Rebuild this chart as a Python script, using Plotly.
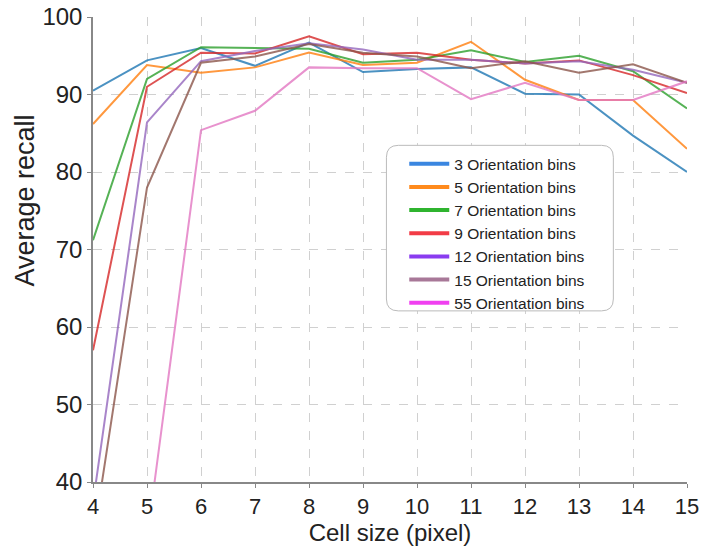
import plotly.graph_objects as go

# Cell size (pixel) on the x axis
cell_sizes = [4, 5, 6, 7, 8, 9, 10, 11, 12, 13, 14, 15]

# Average recall for each number of orientation bins
recall_3 = [90.5, 94.4, 96.0, 93.7, 96.7, 92.9, 93.3, 93.5, 90.1, 90.0, 84.7, 80.0]
recall_5 = [86.2, 93.8, 92.8, 93.5, 95.4, 93.8, 94.1, 96.8, 91.9, 89.3, 89.3, 83.0]
recall_7 = [71.2, 92.0, 96.1, 96.0, 95.9, 94.1, 94.5, 95.7, 94.2, 95.0, 93.0, 88.2]
recall_9 = [57.0, 91.0, 95.4, 95.3, 97.5, 95.2, 95.4, 94.5, 94.0, 94.4, 92.5, 90.2]
recall_12 = [37.3, 86.4, 94.3, 95.6, 96.6, 95.8, 94.5, 94.5, 94.0, 94.3, 93.2, 91.5]
recall_15 = [32.4, 78.0, 94.1, 94.9, 96.5, 95.4, 94.9, 93.4, 94.3, 92.8, 93.9, 91.5]
recall_55 = [20.0, 32.6, 85.4, 87.9, 93.5, 93.4, 93.4, 89.4, 91.5, 89.3, 89.3, 91.7]

series_names = [
    "3 Orientation bins", "5 Orientation bins", "7 Orientation bins",
    "9 Orientation bins", "12 Orientation bins", "15 Orientation bins",
    "55 Orientation bins",
]
series_values = [recall_3, recall_5, recall_7, recall_9, recall_12, recall_15, recall_55]

# plotted line colours and the brighter swatches used in the legend
line_colors = ["#1f77b4", "#ff7f0e", "#2ca02c", "#d62728", "#9467bd", "#8c564b", "#e377c2"]
legend_colors = ["#3a86e0", "#ff8a1c", "#2fb42f", "#f23c46", "#8a3cf0", "#a87898", "#f040f0"]

y_ticks = [40, 50, 60, 70, 80, 90, 100]

fig = go.Figure()

for name, vals, col in zip(series_names, series_values, line_colors):
    fig.add_trace(go.Scatter(
        x=cell_sizes, y=vals, mode="lines", name=name,
        line=dict(color=col, width=2), opacity=0.8,
        showlegend=False, hoverinfo="skip", cliponaxis=True,
    ))

for name, col in zip(series_names, legend_colors):
    fig.add_trace(go.Scatter(
        x=[None], y=[None], mode="lines", name=name,
        line=dict(color=col, width=4), showlegend=True,
    ))

font_family = "Liberation Sans, Arial, sans-serif"

# plot area size in pixels, used to keep the legend frame's corners round
plot_w, plot_h = 701 - 93 - 14, 550 - 17 - 68

# rounded frame behind the legend
x0, x1, y0, y1, r = 0.494, 0.876, 0.368, 0.724, 0.02
ry = r * plot_w / plot_h
legend_frame = (
    f"M {x0 + r},{y0} L {x1 - r},{y0} Q {x1},{y0} {x1},{y0 + ry} "
    f"L {x1},{y1 - ry} Q {x1},{y1} {x1 - r},{y1} "
    f"L {x0 + r},{y1} Q {x0},{y1} {x0},{y1 - ry} "
    f"L {x0},{y0 + ry} Q {x0},{y0} {x0 + r},{y0} Z"
)

fig.update_layout(
    width=701, height=550,
    margin=dict(l=93, r=14, t=17, b=68, autoexpand=False),
    paper_bgcolor="white", plot_bgcolor="white",
    font=dict(family=font_family, color="#222222"),
    shapes=[dict(type="path", xref="paper", yref="paper", path=legend_frame,
                 line=dict(color="#bbbbbb", width=1), fillcolor="white", layer="above")],
    annotations=[dict(
        text="Average recall", textangle=-90, xref="paper", yref="paper",
        x=-0.114, y=0.606, xanchor="center", yanchor="middle", showarrow=False,
        font=dict(size=27, family=font_family, color="#222222"),
    )],
    legend=dict(
        x=0.524, y=0.72, xanchor="left", yanchor="top",
        bgcolor="rgba(0,0,0,0)", borderwidth=0,
        font=dict(size=15.5, family=font_family, color="#222222"),
        tracegroupgap=0, itemwidth=40,
    ),
    xaxis=dict(
        range=[4, 15], tickvals=cell_sizes, ticktext=[str(v) for v in cell_sizes],
        tickfont=dict(size=22), ticks="outside", ticklen=4, tickcolor="#888888",
        ticklabeloverflow="allow", automargin=False,
        showline=True, linecolor="#888888", linewidth=1.5,
        showgrid=True, gridcolor="#d0d0d0", griddash="dash", gridwidth=1,
        zeroline=False,
        title=dict(text="Cell size (pixel)", font=dict(size=24), standoff=2),
    ),
    yaxis=dict(
        range=[40, 100], tickvals=y_ticks, ticktext=[str(v) for v in y_ticks],
        tickfont=dict(size=24), ticks="outside", ticklen=4, tickcolor="#888888",
        ticklabeloverflow="allow", automargin=False,
        showline=True, linecolor="#888888", linewidth=1.5,
        showgrid=True, gridcolor="#d0d0d0", griddash="dash", gridwidth=1,
        zeroline=False,
    ),
)

fig.write_html("out.html")
